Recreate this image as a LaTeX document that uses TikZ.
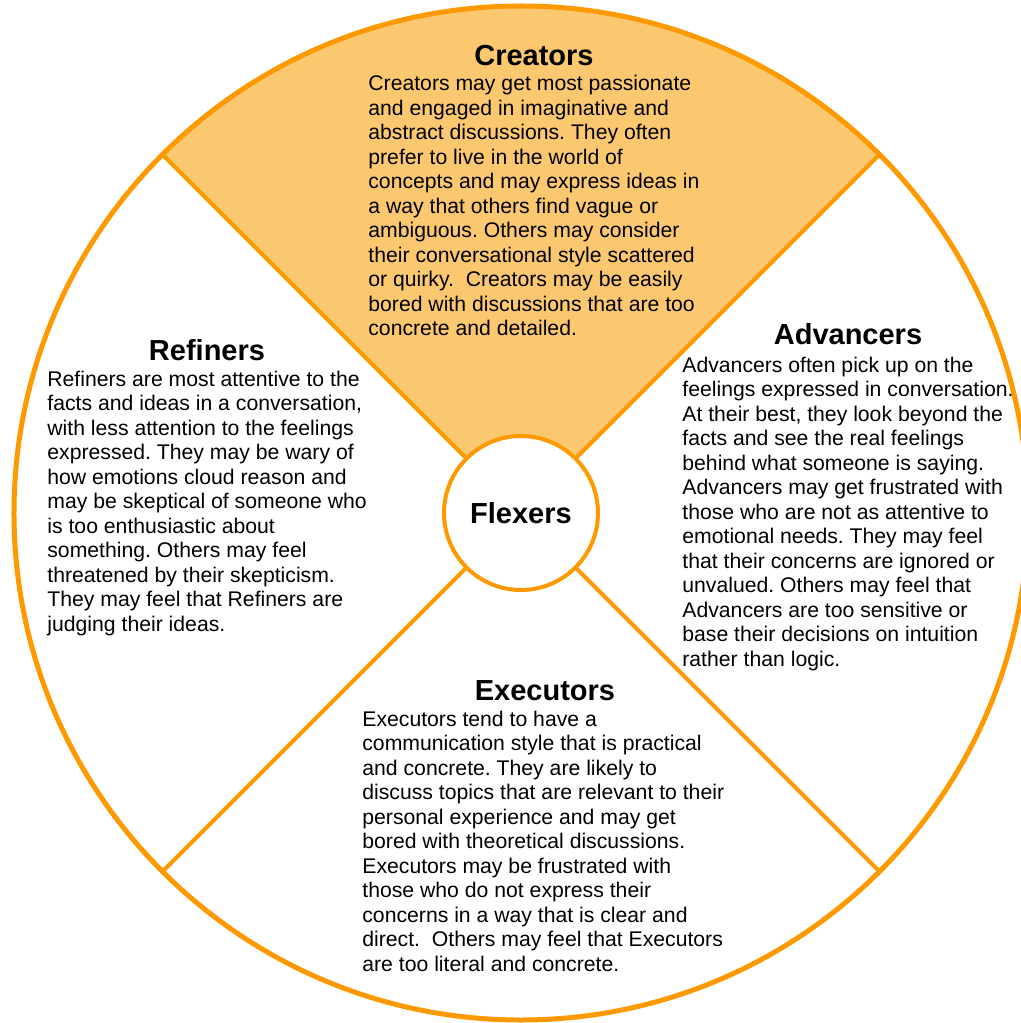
\documentclass[tikz,border=0pt]{standalone}
\usepackage{fontspec}
\setmainfont{Liberation Sans}
\usepackage{tikz}
\frenchspacing

\definecolor{wheelline}{RGB}{255,153,0}
\definecolor{wheelfill}{RGB}{251,200,112}

\begin{document}
\begin{tikzpicture}[x=0.5pt,y=0.5pt]
		\tikzstyle{heading}=[font=\fontsize{14.5}{17}\selectfont\bfseries, anchor=base, inner sep=0];
		\tikzstyle{body}=[font=\fontsize{10.6}{12.25}\selectfont, align=left, anchor=base west, inner sep=0];
		\tikzstyle{spoke}=[draw=wheelline, line width=2pt];

		\useasboundingbox (-521,-510) rectangle (500,513);

		% the wheel
		\fill[wheelfill] (45:77) -- (45:507) arc[start angle=45, end angle=135, radius=507] -- (135:77) arc[start angle=135, end angle=45, radius=77] -- cycle;
		\draw[wheelline, line width=2.5pt] (0,0) circle (507);
		\node[circle, draw=wheelline, fill=white, line width=2pt, minimum size=77pt, inner sep=0,
			font=\fontsize{14.5}{17}\selectfont\bfseries] (flexers) at (0,0) {Flexers};
		\foreach \a in {45,135,225,315}
			\draw[spoke] (flexers.\a) -- (\a:507);

		% creators (body placed by its last line)
		\node[heading] (creators) at (13,447) {Creators};
		\node[body] (creatorstext) at (-153,177) {Creators may get most passionate\\
			and engaged in imaginative and\\
			abstract discussions. They often\\
			prefer to live in the world of\\
			concepts and may express ideas in\\
			a way that others find vague or\\
			ambiguous. Others may consider\\
			their conversational style scattered\\
			or quirky.\ \ Creators may be easily\\
			bored with discussions that are too\\
			concrete and detailed.};

		% refiners
		\node[heading] (refiners) at (-314,153) {Refiners};
		\node[body] (refinerstext) at (-474,-118) {Refiners are most attentive to the\\
			facts and ideas in a conversation,\\
			with less attention to the feelings\\
			expressed. They may be wary of\\
			how emotions cloud reason and\\
			may be skeptical of someone who\\
			is too enthusiastic about\\
			something. Others may feel\\
			threatened by their skepticism.\\
			They may feel that Refiners are\\
			judging their ideas.};

		% advancers
		\node[heading] (advancers) at (327,169) {Advancers};
		\node[body] (advancerstext) at (161,-153) {Advancers often pick up on the\\
			feelings expressed in conversation.\\
			At their best, they look beyond the\\
			facts and see the real feelings\\
			behind what someone is saying.\\
			Advancers may get frustrated with\\
			those who are not as attentive to\\
			emotional needs. They may feel\\
			that their concerns are ignored or\\
			unvalued. Others may feel that\\
			Advancers are too sensitive or\\
			base their decisions on intuition\\
			rather than logic.};

		% executors
		\node[heading] (executors) at (24,-187) {Executors};
		\node[body] (executorstext) at (-159,-458) {Executors tend to have a\\
			communication style that is practical\\
			and concrete. They are likely to\\
			discuss topics that are relevant to their\\
			personal experience and may get\\
			bored with theoretical discussions.\\
			Executors may be frustrated with\\
			those who do not express their\\
			concerns in a way that is clear and\\
			direct.\ \ Others may feel that Executors\\
			are too literal and concrete.};
	\end{tikzpicture}
\end{document}
